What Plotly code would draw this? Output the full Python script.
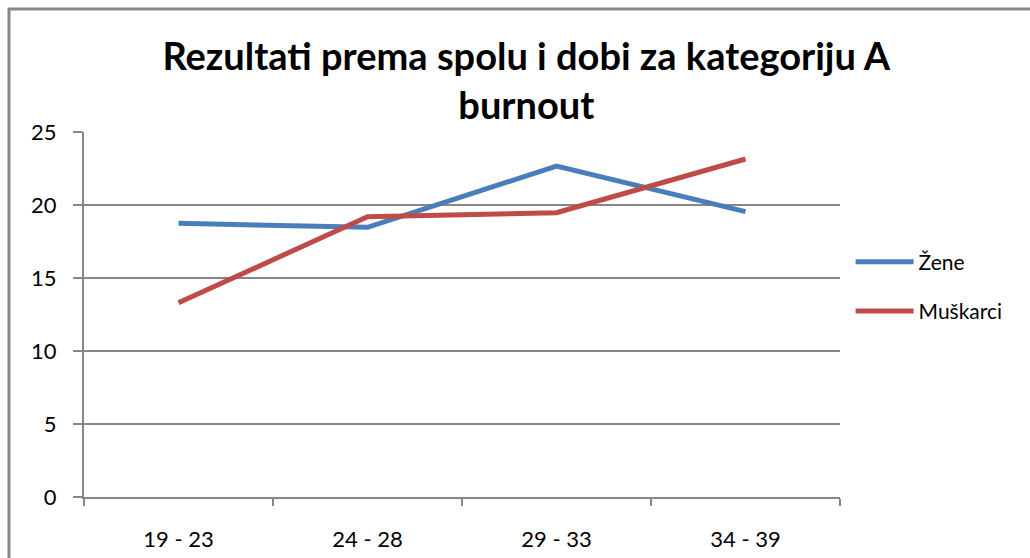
import plotly.graph_objects as go

categories = ["19 - 23", "24 - 28", "29 - 33", "34 - 39"]
zene = [18.75, 18.47, 22.67, 19.55]
muskarci = [13.3, 19.2, 19.47, 23.15]
y_ticks = [0, 5, 10, 15, 20, 25]
title_text = "Rezultati prema spolu i dobi za kategoriju A<br>burnout"

FONT = "Lato, Carlito, Calibri, sans-serif"
GRID = "#878787"

fig = go.Figure()
fig.add_trace(go.Scatter(x=categories, y=zene, name="Žene", mode="lines",
                         line=dict(color="#4A7EBB", width=5), legendgroup="a"))
fig.add_trace(go.Scatter(x=categories, y=muskarci, name="Muškarci", mode="lines",
                         line=dict(color="#BE4B48", width=5), legendgroup="b"))

fig.update_layout(
    width=1030, height=558,
    margin=dict(l=84, r=190, t=132, b=61, autoexpand=False),
    paper_bgcolor="white", plot_bgcolor="white",
    font=dict(family=FONT, size=22, color="black"),
    title=dict(text=title_text, x=0.511, xanchor="center", y=0.875, yanchor="top",
               font=dict(family=FONT, size=38, color="black", weight="bold")),
    showlegend=True,
    legend=dict(x=1.014, xanchor="left", y=0.70, yanchor="top",
                font=dict(family=FONT, size=21), traceorder="grouped",
                tracegroupgap=19, itemwidth=58, bgcolor="rgba(0,0,0,0)"),
    xaxis=dict(type="category", range=[-0.5, 3.5], showgrid=False, automargin=False,
               showline=True, linecolor=GRID, linewidth=2,
               ticks="outside", tickson="boundaries", ticklen=7, tickcolor=GRID, tickwidth=2,
               ticklabelstandoff=22,
               tickfont=dict(family=FONT, size=22), fixedrange=True),
    yaxis=dict(range=[0, 25], tickvals=y_ticks, showgrid=True, gridcolor=GRID, gridwidth=2,
               automargin=False,
               showline=True, linecolor=GRID, linewidth=2, zeroline=False,
               ticks="outside", ticklen=9, tickcolor=GRID, tickwidth=2,
               ticklabelstandoff=12,
               tickfont=dict(family=FONT, size=22), fixedrange=True),
    shapes=[dict(type="rect", xref="paper", yref="paper",
                 x0=(9 - 84) / 756, x1=1.4, y0=-0.3, y1=1 + (132 - 9) / 365,
                 line=dict(color=GRID, width=3), fillcolor="rgba(0,0,0,0)", layer="below")],
)

fig.write_html("out.html", config={"displayModeBar": False},
               post_script="document.body.style.margin='0';")
